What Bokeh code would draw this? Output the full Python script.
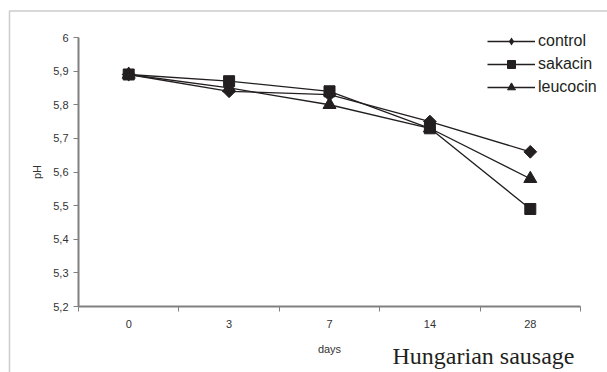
import math
from bokeh.plotting import figure
from bokeh.models import (Range1d, FixedTicker, CustomJSTickFormatter, Legend,
                          LegendItem, Label, BoxAnnotation)
from bokeh.embed import file_html
from bokeh.resources import INLINE

# ---- data ----
days = ["0", "3", "7", "14", "28"]
control = [5.89, 5.84, 5.83, 5.75, 5.66]
sakacin = [5.89, 5.87, 5.84, 5.73, 5.49]
leucocin = [5.89, 5.85, 5.80, 5.73, 5.58]
y_ticks = [5.2, 5.3, 5.4, 5.5, 5.6, 5.7, 5.8, 5.9, 6.0]
series_names = ["control", "sakacin", "leucocin"]
caption_text = "Hungarian sausage"

pos = [i + 0.5 for i in range(len(days))]
bounds = list(range(len(days) + 1))

INK = "#231f20"
AXIS = "#808080"
TXT = "#333333"

# ---- layout (pixels) ----
W, H = 607, 372
AX_L, AX_R = 78, 580      # x-axis pixel extent
AX_T, AX_B = 37, 306      # y-axis pixel extent
nx = len(days)
ppx = (AX_R - AX_L) / nx
ppy = (AX_B - AX_T) / (y_ticks[-1] - y_ticks[0])
x_rng = Range1d(-AX_L / ppx, nx + (W - AX_R) / ppx)
y_rng = Range1d(y_ticks[0] - (H - AX_B) / ppy, y_ticks[-1] + AX_T / ppy)

p = figure(width=W, height=H, output_backend="svg", toolbar_location=None,
           x_range=x_rng, y_range=y_rng, min_border=0)
p.grid.visible = False
p.outline_line_color = None
p.background_fill_color = "white"
p.border_fill_color = "white"

xa = p.xaxis[0]
xa.fixed_location = y_ticks[0]
xa.bounds = (0, nx)
xa.ticker = FixedTicker(ticks=pos, minor_ticks=bounds)
xa.major_label_overrides = {pv: d for pv, d in zip(pos, days)}
xa.major_tick_line_color = None
xa.major_tick_out = 5
xa.major_tick_in = 0
xa.minor_tick_line_color = AXIS
xa.minor_tick_out = 5
xa.minor_tick_in = 0
xa.major_label_standoff = 8
xa.axis_label = "days"
xa.axis_label_standoff = 12

ya = p.yaxis[0]
ya.fixed_location = 0
ya.bounds = (y_ticks[0], y_ticks[-1])
ya.ticker = FixedTicker(ticks=y_ticks)
ya.formatter = CustomJSTickFormatter(
    code="return (Math.round(tick*10)/10).toString().replace('.', ',');")
ya.major_tick_line_color = AXIS
ya.major_tick_out = 5
ya.major_tick_in = 0
ya.minor_tick_line_color = None
ya.major_label_standoff = 5
ya.axis_label = "pH"
ya.axis_label_standoff = 7

for ax in (xa, ya):
    ax.axis_line_color = AXIS
    ax.axis_line_width = 2
    ax.major_label_text_font = "Liberation Sans"
    ax.major_label_text_font_size = "11px"
    ax.major_label_text_color = TXT
    ax.axis_label_text_font = "Liberation Sans"
    ax.axis_label_text_font_size = "11px"
    ax.axis_label_text_font_style = "normal"
    ax.axis_label_text_color = TXT

items = []
specs = [
    (control, dict(marker="square", size=9, angle=math.pi / 4), "diamond"),
    (sakacin, dict(marker="square", size=11), None),
    (leucocin, dict(marker="triangle", size=13), None),
]
for name, (vals, mk, legend_marker) in zip(series_names, specs):
    l = p.line(pos, vals, line_color=INK, line_width=1.3)
    s = p.scatter(pos, vals, fill_color=INK, line_color=INK, **mk)
    rs = [l, s]
    if legend_marker is not None:
        proxy = p.scatter(pos, vals, marker=legend_marker, size=0,
                          fill_color=INK, line_color=INK, line_alpha=0)
        rs = [l, proxy]
    items.append(LegendItem(label=name, renderers=rs))

legend = Legend(items=items, location=(487, 275), border_line_color=None,
                background_fill_alpha=0, padding=0, margin=0, spacing=3,
                glyph_width=48, glyph_height=20, label_standoff=3,
                label_text_font="Liberation Sans", label_text_font_size="16px",
                label_text_color=INK)
p.add_layout(legend)

caption = Label(x=392, y=H - 355, x_units="screen", y_units="screen",
                text=caption_text, text_font="Liberation Serif",
                text_font_size="24px", text_baseline="alphabetic",
                text_align="left", text_color=INK)
p.add_layout(caption)

frame_box = BoxAnnotation(left=9, right=W + 100, top=H - 10.5, bottom=-100,
                          left_units="screen", right_units="screen",
                          top_units="screen", bottom_units="screen",
                          fill_color=None, fill_alpha=0, line_color="#555555",
                          line_width=1.5)
p.add_layout(frame_box)

open("out.html", "w").write(file_html(p, INLINE))
